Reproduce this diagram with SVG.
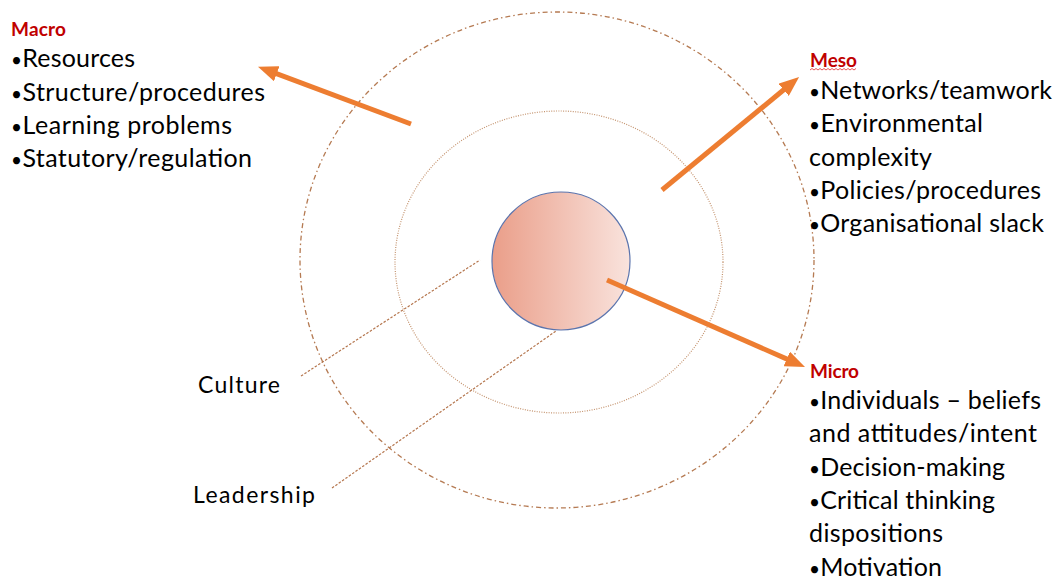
<svg xmlns="http://www.w3.org/2000/svg" width="1058" height="581" viewBox="0 0 1058 581">
  <style>
    .lbl { font-family: Lato, "Open Sans", "Liberation Sans", sans-serif; fill: #000; }
    .item { font-size: 25px; }
    .b { font-size: 19px; }
    .head { font-size: 19px; font-weight: bold; fill: #C00000; }
    .side { font-size: 23px; }
    .arrow { stroke: #ED7D31; stroke-width: 5; fill: none; marker-end: url(#tip); }
    .ring-outer { fill: none; stroke: #B57A52; stroke-width: 1.3; stroke-dasharray: 5 3 1.5 3; }
    .ring-inner { fill: none; stroke: #C4936E; stroke-width: 1.2; stroke-dasharray: 1 1.4; }
    .pointer { stroke: #B5764E; stroke-width: 1.2; stroke-dasharray: 2.5 1.6; fill: none; }
  </style>
  <defs>
    <linearGradient id="core" x1="0" y1="0" x2="1" y2="0">
      <stop offset="0" stop-color="#EA9E89"/>
      <stop offset="1" stop-color="#F9E3DD"/>
    </linearGradient>
    <marker id="tip" markerUnits="userSpaceOnUse" viewBox="0 0 20 16" markerWidth="20" markerHeight="16" refX="6" refY="8" orient="auto">
      <path d="M0,0 L20,8 L0,16 Z" fill="#ED7D31"/>
    </marker>
  </defs>

  <!-- concentric levels -->
  <g id="outer-ring">
    <ellipse class="ring-outer" cx="557" cy="260" rx="257" ry="248"/>
  </g>
  <g id="inner-ring">
    <ellipse class="ring-inner" cx="559" cy="262" rx="164" ry="151"/>
  </g>
  <g id="core-circle">
    <circle cx="561" cy="261" r="69" fill="url(#core)" stroke="#5B74AD" stroke-width="1.2"/>
  </g>

  <!-- connectors -->
  <g id="connectors">
    <line class="arrow" x1="411" y1="124" x2="271.1" y2="71.6"/>
    <line class="arrow" x1="662" y1="190" x2="788.3" y2="86"/>
    <line class="arrow" x1="607" y1="280" x2="792.2" y2="361.4"/>
    <line class="pointer" x1="301" y1="376" x2="480" y2="260"/>
    <line class="pointer" x1="332" y1="488" x2="556" y2="331"/>
  </g>

  <!-- Macro -->
  <g id="macro">
    <text class="lbl head" x="11" y="36" textLength="55">Macro</text>
    <text class="lbl item" x="11" y="67" textLength="124"><tspan class="b">•</tspan>Resources</text>
    <text class="lbl item" x="11" y="100.5" textLength="254"><tspan class="b">•</tspan>Structure/procedures</text>
    <text class="lbl item" x="11" y="134" textLength="221"><tspan class="b">•</tspan>Learning problems</text>
    <text class="lbl item" x="11" y="167" textLength="241"><tspan class="b">•</tspan>Statutory/regulation</text>
  </g>

  <!-- Meso -->
  <g id="meso">
    <text class="lbl head" x="810" y="67" textLength="47">Meso</text>
    <path d="M810,70 l2,-1.5 l2,1.5 l2,-1.5 l2,1.5 l2,-1.5 l2,1.5 l2,-1.5 l2,1.5 l2,-1.5 l2,1.5 l2,-1.5 l2,1.5 l2,-1.5 l2,1.5 l2,-1.5 l2,1.5 l2,-1.5 l2,1.5 l2,-1.5 l2,1.5 l2,-1.5 l2,1.5 l2,-1.5" fill="none" stroke="#E03030" stroke-width="0.8"/>
    <text class="lbl item" x="809" y="98.5" textLength="243"><tspan class="b">•</tspan>Networks/teamwork</text>
    <text class="lbl item" x="809" y="132" textLength="174"><tspan class="b">•</tspan>Environmental</text>
    <text class="lbl item" x="809" y="165.5" textLength="123">complexity</text>
    <text class="lbl item" x="809" y="199" textLength="232"><tspan class="b">•</tspan>Policies/procedures</text>
    <text class="lbl item" x="809" y="232" textLength="235"><tspan class="b">•</tspan>Organisational slack</text>
  </g>

  <!-- Micro -->
  <g id="micro">
    <text class="lbl head" x="810" y="378" textLength="49">Micro</text>
    <text class="lbl item" x="809" y="408.5" textLength="232"><tspan class="b">•</tspan>Individuals – beliefs</text>
    <text class="lbl item" x="809" y="442" textLength="228">and attitudes/intent</text>
    <text class="lbl item" x="809" y="475.5" textLength="196"><tspan class="b">•</tspan>Decision-making</text>
    <text class="lbl item" x="809" y="509" textLength="186"><tspan class="b">•</tspan>Critical thinking</text>
    <text class="lbl item" x="809" y="542" textLength="134">dispositions</text>
    <text class="lbl item" x="809" y="575.5" textLength="133"><tspan class="b">•</tspan>Motivation</text>
  </g>

  <!-- side labels -->
  <g id="culture">
    <text class="lbl side" x="198" y="393" textLength="82">Culture</text>
  </g>
  <g id="leadership">
    <text class="lbl side" x="193" y="503" textLength="122">Leadership</text>
  </g>
</svg>
